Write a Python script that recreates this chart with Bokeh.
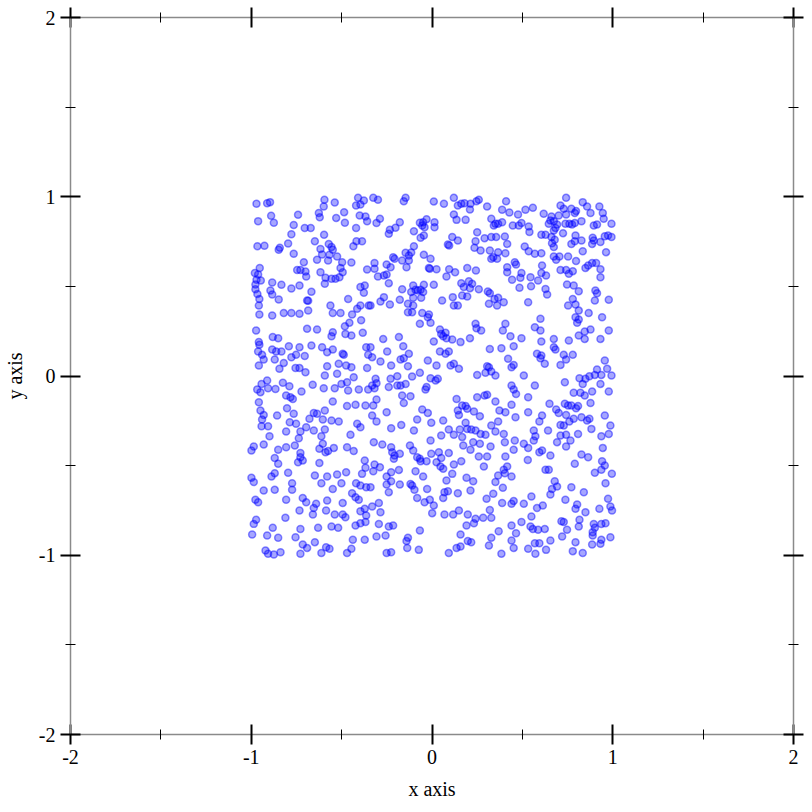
from bokeh.plotting import figure
from bokeh.models import Range1d, LinearAxis, FixedTicker, ColumnDataSource, CustomLabelingPolicy
from bokeh.embed import file_html
from bokeh.resources import INLINE

# ---- data ----
xs = [
-0.971,-0.912,-0.896,-0.595,-0.538,-0.599,-0.409,-0.377,-0.420,-0.396,-0.962,-0.890,-0.875,-0.741,-0.626,-0.621,-0.530,-0.486,-0.482,-0.400,-0.368,-0.359,-0.420,
-0.765,-0.704,-0.671,-0.778,-0.597,-0.966,-0.927,-0.796,-0.848,-0.842,-0.765,-0.648,-0.571,-0.556,-0.549,-0.617,-0.608,-0.567,-0.525,-0.636,-0.575,-0.497,-0.446,
-0.418,-0.387,-0.435,-0.709,-0.746,-0.728,-0.700,-0.696,-0.617,-0.506,-0.494,-0.512,-0.589,-0.556,-0.534,-0.593,-0.359,-0.980,-0.953,-0.962,-0.971,-0.947,-0.977,
-0.977,-0.884,-0.833,-0.778,-0.733,-0.894,-0.884,-0.966,-0.955,-0.958,-0.848,-0.667,-0.691,-0.685,-0.562,-0.464,-0.396,-0.372,-0.377,-0.396,-0.414,-0.350,-0.955,
-0.884,-0.820,-0.778,-0.733,-0.685,-0.549,-0.506,-0.442,
-0.325,-0.299,-0.156,-0.146,0.010,0.066,0.121,0.143,0.162,0.180,0.213,0.210,0.246,0.259,0.305,0.121,0.136,0.186,0.328,0.342,-0.288,-0.307,-0.178,-0.202,-0.233,
-0.239,-0.067,-0.049,-0.054,-0.030,0.014,0.014,-0.041,-0.100,-0.045,-0.063,0.112,0.088,0.095,0.143,0.250,0.241,0.235,0.269,0.291,0.328,0.320,0.328,0.339,-0.100,
-0.146,-0.128,-0.115,-0.215,-0.207,-0.165,-0.128,-0.141,-0.045,-0.008,-0.318,-0.318,-0.251,-0.229,-0.299,-0.266,-0.251,-0.239,-0.017,-0.012,0.025,0.095,0.128,
0.080,0.195,0.243,-0.104,-0.045,0.010,-0.165,-0.115,-0.091,-0.078,-0.063,-0.049,-0.104,-0.060,0.162,0.176,0.204,0.210,0.222,0.259,0.309,0.320,0.167,0.195,0.115,
0.056,-0.266,-0.285,-0.178,-0.233,-0.133,-0.104,-0.133,-0.110,-0.054,-0.017,0.121,0.143,0.315,0.346,-0.340,
0.742,0.410,0.388,0.428,0.476,0.517,0.558,0.618,0.661,0.674,0.701,0.711,0.729,0.742,0.771,0.790,0.797,0.834,0.858,0.877,0.926,0.945,0.950,0.993,0.351,0.366,
0.388,0.447,0.480,0.495,0.535,0.646,0.655,0.692,0.738,0.760,0.775,0.790,0.827,0.895,0.913,0.539,0.605,0.628,0.674,0.683,0.661,0.725,0.794,0.790,0.827,0.889,
0.895,0.886,0.932,0.956,0.974,0.993,0.355,0.403,0.416,0.513,0.535,0.569,0.605,0.664,0.679,0.674,0.834,0.771,0.963,0.366,0.360,0.406,0.674,0.687,0.705,0.753,
0.797,0.742,0.849,0.864,0.886,0.908,0.932,0.932,0.609,0.605,0.711,0.757,0.779,0.416,0.416,0.458,0.465,0.495,0.489,0.443,0.545,0.587,0.631,0.747,0.784,0.484,
0.548,0.628,0.637,0.812,0.904,0.913,0.978,0.901,0.779,0.794,0.753,0.812,0.867,0.366,0.397,0.360,0.532,
-0.457,-0.392,-0.973,-0.691,-0.636,-0.482,-0.549,-0.556,-0.479,-0.446,-0.383,-0.958,-0.955,-0.881,-0.851,-0.962,-0.940,-0.931,-0.884,-0.862,-0.833,-0.792,-0.733,
-0.667,-0.608,-0.580,-0.549,-0.778,-0.752,-0.704,-0.870,-0.820,-0.958,-0.844,-0.755,-0.733,-0.700,-0.580,-0.516,-0.494,-0.488,-0.475,-0.446,-0.364,-0.353,-0.359,
-0.593,-0.525,-0.433,-0.943,-0.912,-0.967,-0.949,-0.907,-0.866,-0.825,-0.789,-0.660,-0.599,-0.538,-0.501,-0.470,-0.464,-0.405,-0.353,-0.807,-0.783,-0.770,-0.722,
-0.958,-0.949,-0.931,-0.857,-0.802,-0.765,-0.654,-0.636,-0.593,-0.549,-0.470,-0.423,-0.368,-0.940,-0.943,-0.907,-0.787,-0.752,-0.728,-0.696,-0.678,-0.654,-0.604,
-0.593,-0.556,-0.516,-0.414,-0.396,-0.807,-0.899,-0.737,-0.612,-0.451,
-0.067,-0.023,-0.008,0.044,0.051,0.062,0.075,0.080,0.112,0.158,0.210,0.241,0.246,0.272,-0.270,-0.183,-0.159,0.010,-0.340,-0.331,-0.248,-0.285,-0.226,-0.174,
-0.156,-0.128,-0.133,-0.023,0.025,0.044,0.075,0.093,0.103,0.121,0.149,0.320,-0.312,-0.331,-0.318,-0.307,-0.239,-0.229,-0.192,-0.192,-0.174,-0.146,-0.110,-0.067,
-0.008,0.020,0.032,-0.030,-0.036,-0.307,-0.325,0.250,0.296,0.305,0.315,0.328,-0.165,-0.156,-0.119,0.136,0.167,0.186,0.195,0.143,0.149,0.232,0.250,0.291,0.305,
0.265,-0.054,-0.023,-0.251,-0.331,-0.307,-0.226,-0.170,-0.082,-0.004,0.062,0.093,0.051,-0.100,0.121,0.154,0.186,0.195,0.217,0.241,0.269,0.296,0.328,0.167,
0.406,0.392,0.434,0.495,0.600,0.569,0.600,0.605,0.674,0.674,0.683,0.757,0.803,0.794,0.812,0.845,0.877,0.812,0.845,0.932,0.941,0.978,0.384,0.452,0.421,0.440,
0.452,0.508,0.581,0.605,0.600,0.624,0.711,0.729,0.742,0.779,0.351,0.569,0.440,0.452,0.465,0.532,0.735,0.784,0.821,0.816,0.849,0.845,0.871,0.901,0.913,0.937,
0.956,0.969,0.993,0.978,0.932,0.886,0.834,0.351,0.440,0.650,0.687,0.735,0.753,0.771,0.797,0.808,0.877,0.701,0.742,0.760,0.729,0.784,0.827,0.858,0.871,0.882,
0.956,0.987,0.978,0.937,0.373,0.406,0.462,0.532,0.609,0.594,0.366,0.397,0.563,0.642,0.711,0.711,0.742,0.808,0.572,0.351,
-0.986,-0.999,-0.931,-0.851,-0.807,-0.759,-0.728,-0.728,-0.715,-0.741,-0.623,-0.604,-0.589,-0.575,-0.543,-0.470,-0.433,-0.870,-0.851,-0.623,-0.372,-0.368,-0.796,
-0.888,-0.870,-0.999,-0.986,-0.931,-0.870,-0.774,-0.774,-0.648,-0.580,-0.525,-0.475,-0.612,-0.549,-0.501,-0.420,-0.396,-0.387,-0.364,-0.977,-0.962,-0.807,-0.715,
-0.696,-0.641,-0.654,-0.580,-0.494,-0.442,-0.423,-0.405,-0.733,-0.586,-0.659,-0.538,-0.494,-0.479,-0.423,-0.396,-0.372,-0.364,-0.396,-0.368,-0.995,-0.986,-0.973,
-0.912,-0.881,-0.851,-0.811,-0.755,-0.728,-0.630,-0.556,-0.519,-0.715,-0.691,-0.648,-0.586,-0.612,-0.567,-0.470,-0.446,-0.438,-0.372,-0.921,-0.907,-0.875,-0.838,
-0.728,
-0.322,-0.275,-0.226,-0.220,-0.207,-0.178,-0.211,-0.122,-0.104,-0.008,-0.082,-0.067,-0.063,-0.030,-0.004,0.038,0.051,0.025,0.047,0.062,0.093,0.121,0.162,0.173,
0.213,0.228,0.265,0.259,0.305,0.324,0.287,-0.318,-0.288,-0.325,-0.251,-0.226,-0.183,-0.251,-0.226,-0.178,-0.119,-0.110,-0.097,-0.091,-0.049,-0.027,0.080,0.112,
0.191,0.228,0.143,0.213,0.088,0.069,0.062,-0.082,-0.041,-0.012,0.010,0.001,-0.340,-0.239,0.339,0.302,-0.294,-0.331,-0.285,0.069,0.117,0.149,0.198,0.241,0.232,
0.191,0.283,0.320,0.328,-0.294,-0.239,-0.215,-0.067,-0.307,-0.257,-0.133,-0.141,0.158,0.198,0.217,0.328,0.315,0.158,0.136,-0.137,-0.073,0.093,-0.251,-0.226,
0.403,0.458,0.508,0.532,0.452,0.563,0.692,0.742,0.766,0.594,0.609,0.655,0.530,0.406,0.397,0.416,0.403,0.366,0.440,0.351,0.392,0.628,0.646,0.679,0.664,0.692,
0.655,0.771,0.738,0.840,0.790,0.827,0.864,0.945,0.941,0.956,0.901,0.937,0.960,0.995,0.388,0.440,0.452,0.508,0.550,0.581,0.613,0.550,0.465,0.440,0.495,0.545,
0.558,0.587,0.624,0.720,0.716,0.729,0.747,0.803,0.794,0.849,0.926,0.974,0.987,0.996,0.816,0.812,0.895,0.901,0.889,0.889,0.937,0.960,0.937,0.932,0.987,0.886,
0.369,0.440,0.452,0.532,0.569,0.594,0.572,0.631,0.655,0.794,0.779,0.834,0.384,
]
ys = [
0.961,0.964,0.970,0.983,0.968,0.946,0.994,0.979,0.951,0.957,0.864,0.894,0.855,0.899,0.910,0.886,0.882,0.914,0.855,0.896,0.890,0.864,0.825,
0.842,0.825,0.825,0.791,0.788,0.724,0.726,0.739,0.704,0.715,0.682,0.752,0.737,0.719,0.704,0.709,0.678,0.676,0.667,0.648,0.644,0.635,0.633,
0.752,0.752,0.724,0.635,0.592,0.592,0.583,0.555,0.579,0.603,0.579,0.551,0.548,0.542,0.542,0.514,0.594,0.574,0.603,0.566,0.537,0.533,0.510,
0.484,0.522,0.509,0.488,0.505,0.477,0.455,0.458,0.430,0.393,0.427,0.470,0.421,0.420,0.393,0.430,0.496,0.505,0.464,0.393,0.375,0.393,0.343,
0.338,0.351,0.351,0.347,0.365,0.351,0.351,0.343,
0.994,0.983,0.975,0.994,0.974,0.961,0.994,0.951,0.961,0.964,0.961,0.929,0.975,0.983,0.946,0.901,0.871,0.871,0.877,0.840,0.877,0.853,0.858,0.827,0.816,
0.793,0.855,0.858,0.840,0.875,0.858,0.830,0.830,0.808,0.784,0.771,0.775,0.734,0.728,0.756,0.802,0.752,0.715,0.700,0.769,0.775,0.700,0.654,0.663,0.724,
0.687,0.672,0.689,0.663,0.654,0.644,0.644,0.607,0.676,0.654,0.630,0.598,0.622,0.607,0.555,0.561,0.566,0.518,0.602,0.598,0.596,0.596,0.579,
0.555,0.603,0.589,0.505,0.509,0.509,0.484,0.468,0.481,0.477,0.481,0.468,0.436,0.436,0.518,0.496,0.529,0.490,0.514,0.484,0.471,0.462,0.449,0.443,0.440,
0.421,0.440,0.416,0.425,0.399,0.403,0.393,0.356,0.356,0.351,0.343,0.393,0.393,0.403,0.430,0.393,
0.994,0.975,0.927,0.912,0.901,0.927,0.938,0.905,0.890,0.864,0.896,0.951,0.933,0.901,0.933,0.909,0.920,0.970,0.946,0.909,0.946,0.909,0.877,0.849,0.849,0.849,
0.858,0.840,0.840,0.853,0.834,0.849,0.868,0.845,0.849,0.849,0.845,0.853,0.864,0.840,0.845,0.803,0.788,0.788,0.812,0.825,0.775,0.797,0.784,0.752,0.756,0.771,
0.756,0.737,0.747,0.780,0.784,0.775,0.775,0.778,0.737,0.723,0.696,0.682,0.685,0.741,0.760,0.719,0.696,0.737,0.691,0.691,0.654,0.685,0.667,0.648,0.667,0.667,
0.641,0.592,0.603,0.617,0.630,0.630,0.596,0.551,0.617,0.574,0.592,0.570,0.585,0.607,0.579,0.635,0.622,0.574,0.548,0.537,0.551,0.533,0.561,0.510,0.505,0.492,
0.501,0.486,0.455,0.473,0.477,0.462,0.425,0.421,0.430,0.399,0.393,0.365,0.351,0.436,0.412,0.393,0.412,
0.297,0.311,0.254,0.263,0.259,0.278,0.244,0.222,0.235,0.226,0.241,0.189,0.174,0.218,0.211,0.137,0.118,0.092,0.148,0.137,0.137,0.166,0.161,
0.170,0.161,0.133,0.148,0.105,0.118,0.111,0.092,0.073,0.058,0.040,0.044,0.044,0.021,0.055,0.068,0.124,0.118,0.058,0.049,0.161,0.118,0.044,
0.003,0.012,-0.007,-0.044,-0.025,-0.075,-0.090,-0.068,-0.072,-0.038,-0.057,-0.049,-0.068,-0.068,-0.044,-0.035,-0.081,-0.075,-0.075,-0.109,-0.118,-0.128,-0.087,
-0.146,-0.193,-0.217,-0.221,-0.180,-0.211,-0.206,-0.211,-0.193,-0.142,-0.168,-0.161,-0.165,-0.243,-0.280,-0.280,-0.258,-0.267,-0.310,-0.286,-0.239,-0.304,-0.243,
-0.299,-0.248,-0.254,-0.267,-0.286,-0.310,-0.336,-0.347,-0.336,-0.328,
0.291,0.328,0.297,0.259,0.235,0.222,0.241,0.211,0.204,0.189,0.211,0.291,0.267,0.254,0.207,0.217,0.166,0.192,0.161,0.105,0.137,0.081,0.058,0.092,
0.099,0.124,0.055,0.086,0.058,0.137,0.124,0.137,0.058,0.068,0.040,0.151,-0.016,-0.053,-0.068,-0.040,-0.062,-0.016,-0.001,-0.053,-0.053,-0.044,-0.003,0.018,
-0.012,-0.025,-0.016,-0.062,-0.075,-0.131,-0.165,0.006,0.018,0.055,0.049,0.025,-0.109,-0.150,-0.113,-0.128,-0.165,-0.168,-0.183,-0.193,-0.217,-0.198,-0.118,-0.109,-0.105,
-0.224,-0.187,-0.206,-0.202,-0.221,-0.254,-0.291,-0.273,-0.243,-0.261,-0.248,-0.299,-0.332,-0.304,-0.328,-0.299,-0.261,-0.295,-0.299,-0.304,-0.323,-0.328,-0.276,-0.341,
0.291,0.254,0.222,0.211,0.319,0.272,0.254,0.192,0.207,0.161,0.148,0.198,0.297,0.328,0.315,0.248,0.259,0.226,0.207,0.207,0.328,0.254,0.155,0.166,0.096,0.049,
0.062,0.003,0.124,0.114,0.099,0.068,0.062,0.118,0.092,0.118,0.003,-0.053,-0.053,-0.075,-0.100,-0.118,-0.035,-0.094,-0.094,-0.012,-0.016,-0.109,-0.001,0.006,0.036,0.006,
0.086,0.040,0.003,-0.087,-0.044,-0.087,-0.044,-0.142,-0.161,-0.155,-0.187,-0.155,-0.165,-0.165,-0.180,-0.168,-0.150,-0.206,-0.217,-0.254,-0.276,-0.239,-0.230,-0.248,-0.239,-0.295,
-0.221,-0.276,-0.323,-0.336,-0.193,-0.202,-0.230,-0.202,-0.221,-0.254,-0.254,-0.323,-0.304,-0.304,-0.273,-0.332,-0.328,-0.323,-0.336,-0.310,
-0.393,-0.416,-0.382,-0.412,-0.397,-0.388,-0.430,-0.453,-0.471,-0.481,-0.406,-0.378,-0.425,-0.419,-0.401,-0.397,-0.419,-0.457,-0.490,-0.486,-0.471,-0.512,-0.540,
-0.561,-0.542,-0.568,-0.592,-0.639,-0.635,-0.598,-0.635,-0.555,-0.561,-0.550,-0.537,-0.598,-0.630,-0.598,-0.598,-0.611,-0.546,-0.620,-0.691,-0.704,-0.691,-0.680,
-0.704,-0.713,-0.736,-0.695,-0.709,-0.654,-0.676,-0.691,-0.750,-0.750,-0.773,-0.773,-0.773,-0.788,-0.834,-0.754,-0.741,-0.778,-0.821,-0.815,-0.884,-0.825,-0.802,
-0.890,-0.847,-0.903,-0.791,-0.899,-0.853,-0.847,-0.840,-0.847,-0.940,-0.959,-0.927,-0.955,-0.988,-0.964,-0.988,-0.964,-0.914,-0.914,-0.974,-0.992,-0.996,-0.983,
-0.992,
-0.369,-0.382,-0.397,-0.425,-0.444,-0.434,-0.462,-0.388,-0.416,-0.360,-0.453,-0.462,-0.475,-0.475,-0.434,-0.425,-0.457,-0.481,-0.505,-0.518,-0.430,-0.494,-0.475,-0.388,
-0.412,-0.369,-0.378,-0.449,-0.449,-0.393,-0.505,-0.494,-0.509,-0.531,-0.561,-0.537,-0.524,-0.605,-0.587,-0.605,-0.602,-0.611,-0.635,-0.531,-0.561,-0.630,-0.583,-0.546,
-0.568,-0.587,-0.654,-0.639,-0.643,-0.648,-0.680,-0.680,-0.704,-0.691,-0.722,-0.765,-0.620,-0.648,-0.657,-0.685,-0.709,-0.728,-0.760,-0.773,-0.773,-0.750,-0.773,-0.797,-0.821,
-0.834,-0.791,-0.747,-0.791,-0.825,-0.840,-0.834,-0.862,-0.895,-0.890,-0.903,-0.921,-0.884,-0.921,-0.927,-0.903,-0.946,-0.951,-0.959,-0.959,-0.970,-0.988,-0.988,-0.983,
-0.369,-0.360,-0.378,-0.401,-0.412,-0.360,-0.369,-0.393,-0.360,-0.425,-0.416,-0.444,-0.468,-0.449,-0.523,-0.505,-0.542,-0.555,-0.561,-0.592,-0.624,-0.523,-0.523,-0.587,-0.630,-0.617,
-0.661,-0.620,-0.691,-0.648,-0.490,-0.438,-0.453,-0.401,-0.475,-0.499,-0.540,-0.523,-0.598,-0.545,-0.709,-0.713,-0.698,-0.713,-0.672,-0.736,-0.722,-0.784,-0.877,-0.834,-0.815,-0.840,
-0.853,-0.858,-0.853,-0.895,-0.810,-0.815,-0.858,-0.717,-0.741,-0.760,-0.741,-0.685,-0.728,-0.750,-0.802,-0.840,-0.825,-0.847,-0.871,-0.890,-0.825,-0.821,-0.914,-0.936,-0.899,-0.940,
-0.866,-0.918,-0.959,-0.964,-0.933,-0.933,-0.992,-0.970,-0.918,-0.927,-0.977,-0.988,-0.992,
]

tick_values = [-2, -1, 0, 1, 2]
tick_labels = ["-2", "-1", "0", "1", "2"]
minor_values = [-1.5, -0.5, 0.5, 1.5]
x_label = "x axis"
y_label = "y axis"

n = min(len(xs), len(ys))
src = ColumnDataSource(data=dict(x=xs[:n], y=ys[:n]))

FONT = "Liberation Serif"

p = figure(frame_width=723, frame_height=717, output_backend="svg", toolbar_location=None,
           x_range=Range1d(-2, 2), y_range=Range1d(-2, 2),
           min_border_left=70, min_border_right=11, min_border_top=17, min_border_bottom=66,
           x_axis_type=None, y_axis_type=None)
p.grid.visible = False
p.outline_line_color = None
p.background_fill_color = "white"
p.border_fill_color = "white"

overrides = {v: l for v, l in zip(tick_values, tick_labels)}

hide_all = CustomLabelingPolicy(code="""
try { indices.clear() } catch (e) { for (const i of Array.from(indices)) indices.unset(i) }
return indices
""")

def make_axis(show_labels, label=None, label_standoff=2, title_standoff=8):
    ax = LinearAxis(ticker=FixedTicker(ticks=tick_values, minor_ticks=minor_values))
    ax.axis_line_color = "#8a8a8a"
    ax.axis_line_width = 1.5
    ax.major_tick_line_color = "black"
    ax.major_tick_line_width = 2
    ax.major_tick_in = 10
    ax.major_tick_out = 10
    ax.minor_tick_line_color = "black"
    ax.minor_tick_line_width = 1
    ax.minor_tick_in = 5
    ax.minor_tick_out = 5
    ax.major_label_overrides = overrides
    ax.major_label_text_font = FONT
    ax.major_label_text_color = "black"
    if show_labels:
        ax.major_label_text_font_size = "20px"
        ax.major_label_standoff = label_standoff
        ax.axis_label = label
        ax.axis_label_text_font = FONT
        ax.axis_label_text_font_size = "20px"
        ax.axis_label_text_font_style = "normal"
        ax.axis_label_text_color = "black"
        ax.axis_label_standoff = title_standoff
    else:
        ax.major_label_text_font_size = "1px"
        ax.major_label_standoff = 0
        ax.major_label_policy = hide_all
    return ax

p.add_layout(make_axis(True, x_label, label_standoff=5, title_standoff=11), "below")
p.add_layout(make_axis(True, y_label, label_standoff=5, title_standoff=10), "left")
p.add_layout(make_axis(False), "above")
p.add_layout(make_axis(False), "right")

p.scatter("x", "y", source=src, size=7, marker="circle",
          fill_color="blue", fill_alpha=0.35,
          line_color="blue", line_alpha=0.45, line_width=1.5)

open("out.html", "w").write(file_html(p, INLINE))
